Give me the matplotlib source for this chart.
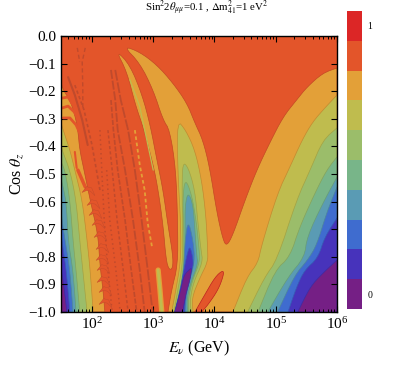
import matplotlib
matplotlib.use('Agg')
import matplotlib.pyplot as plt
import numpy as np
from matplotlib.path import Path
from matplotlib.colors import ListedColormap, to_rgb

plt.rcParams['font.family'] = ['Liberation Serif', 'DejaVu Serif']
plt.rcParams['mathtext.fontset'] = 'stix'

# band colours, level 0 (purple) to level 9 (red)
band_colors = ['#751f85', '#4733bb', '#3f6ccf', '#5a9bb4', '#78b589',
               '#9bbd6a', '#bfbc4e', '#e3a038', '#e3552a', '#dc2626']
field_level = 8

# colour bar values
cb_levels = np.arange(10) / 9

# regions: log10(E/GeV) and cos(theta)
main7_loge = [2.51, 2.78, 3.06, 3.32, 3.55, 3.68, 3.81, 3.92, 4.04, 4.14, 4.20, 4.30, 4.50, 4.69, 4.90, 5.12, 5.34, 5.51, 5.77, 6.0, 6.0, 3.24, 3.30, 3.40, 3.40, 3.37, 3.27, 3.16, 3.00, 2.78]
main7_cos = [-.036, -.058, -.105, -.170, -.243, -.315, -.377, -.475, -.641, -.739, -.761, -.721, -.594, -.486, -.388, -.293, -.232, -.185, -.134, -.116, -1, -1, -.920, -.830, -.685, -.486, -.341, -.304, -.196, -.098]

right6_loge = [6, 5.80, 5.60, 5.43, 5.23, 5.03, 4.77, 4.71, 4.53, 4.30, 6]
right6_cos = [-.214, -.261, -.312, -.377, -.475, -.569, -.757, -.822, -.873, -1, -1]
right5_loge = [6, 5.77, 5.56, 5.34, 5.02, 4.82, 4.54, 6]
right5_cos = [-.333, -.377, -.486, -.594, -.812, -.873, -1, -1]
right4_loge = [6, 5.83, 5.64, 5.39, 5.23, 4.99, 4.71, 6]
right4_cos = [-.438, -.486, -.569, -.692, -.801, -.848, -1, -1]
right3_loge = [6, 5.77, 5.51, 5.47, 5.20, 4.87, 6]
right3_cos = [-.511, -.605, -.728, -.801, -.873, -1, -1]
right2_loge = [6, 5.83, 5.67, 5.52, 5.31, 5.03, 6]
right2_cos = [-.547, -.641, -.757, -.812, -.866, -1, -1]
right1_loge = [6, 5.80, 5.69, 5.47, 5.34, 5.20, 6]
right1_cos = [-.659, -.728, -.804, -.848, -.909, -1, -1]
right0_loge = [6, 5.77, 5.56, 5.36, 6]
right0_cos = [-.812, -.859, -.909, -1, -1]

mid6_loge = [3.39, 3.53, 3.68, 3.79, 3.86, 3.89, 3.89, 3.76, 3.63, 3.65, 3.30, 3.37, 3.45, 3.45, 3.40]
mid6_cos = [-.304, -.341, -.413, -.522, -.649, -.775, -.819, -.877, -.949, -1, -1, -.920, -.812, -.685, -.486]
mid5_loge = [3.48, 3.57, 3.68, 3.73, 3.78, 3.81, 3.66, 3.60, 3.62, 3.34, 3.40, 3.48, 3.48, 3.47]
mid5_cos = [-.457, -.475, -.558, -.678, -.775, -.819, -.891, -.957, -1, -1, -.920, -.830, -.703, -.558]
mid4_loge = [3.52, 3.63, 3.71, 3.75, 3.76, 3.63, 3.57, 3.58, 3.35, 3.44, 3.50, 3.50, 3.48]
mid4_cos = [-.514, -.576, -.685, -.775, -.819, -.891, -.957, -1, -1, -.920, -.830, -.703, -.594]
mid3_loge = [3.57, 3.65, 3.68, 3.71, 3.73, 3.60, 3.55, 3.56, 3.37, 3.45, 3.52, 3.52, 3.52]
mid3_cos = [-.565, -.612, -.703, -.793, -.826, -.902, -.957, -1, -1, -.920, -.830, -.703, -.612]
mid2_loge = [3.57, 3.65, 3.68, 3.57, 3.53, 3.53, 3.37, 3.45, 3.50, 3.52]
mid2_cos = [-.667, -.739, -.819, -.902, -.957, -1, -1, -.920, -.841, -.739]
mid1_loge = [3.60, 3.66, 3.63, 3.53, 3.51, 3.35, 3.44, 3.50, 3.55]
mid1_cos = [-.757, -.819, -.848, -.920, -1, -1, -.920, -.848, -.793]
mid0_loge = [3.35, 3.44, 3.50, 3.60, 3.63, 3.60, 3.53, 3.48]
mid0_cos = [-1, -.928, -.866, -.844, -.841, -.884, -.938, -1]

lobe8_loge = [3.68, 3.84, 4.01, 4.14, 4.15, 4.06, 3.89, 3.79]
lobe8_cos = [-1, -.938, -.873, -.848, -.866, -.920, -.975, -1]

stripe7_loge = [2.39, 2.62, 2.82, 2.95, 3.06, 3.16, 3.24, 3.32, 3.32, 3.26, 3.21, 3.16, 3.08, 3.00, 2.85, 2.70, 2.57]
stripe7_cos = [-.051, -.105, -.214, -.322, -.449, -.558, -.685, -.793, -.841, -.848, -.812, -.685, -.558, -.467, -.341, -.243, -.130]

left7_loge = [1.48, 1.53, 1.64, 1.72, 1.77, 1.80, 1.87, 1.97, 2.10, 2.13, 2.18, 2.21, 1.48]
left7_cos = [-.159, -.196, -.232, -.286, -.341, -.413, -.486, -.594, -.721, -.830, -.920, -1, -1]
left6_loge = [1.48, 1.53, 1.64, 1.72, 1.84, 1.92, 1.97, 2.02, 1.48]
left6_cos = [-.304, -.341, -.413, -.486, -.594, -.739, -.848, -1, -1]
left5_loge = [1.48, 1.51, 1.64, 1.74, 1.80, 1.85, 1.92, 1.48]
left5_cos = [-.377, -.413, -.486, -.594, -.739, -.848, -1, -1]
left4_loge = [1.48, 1.56, 1.64, 1.69, 1.74, 1.80, 1.48]
left4_cos = [-.449, -.486, -.594, -.739, -.848, -1, -1]
left3_loge = [1.48, 1.58, 1.61, 1.69, 1.74, 1.48]
left3_cos = [-.504, -.594, -.739, -.848, -1, -1]
left2_loge = [1.48, 1.51, 1.56, 1.64, 1.69, 1.48]
left2_cos = [-.594, -.667, -.739, -.848, -1, -1]
left1_loge = [1.48, 1.53, 1.58, 1.64, 1.48]
left1_cos = [-.685, -.775, -.848, -1, -1]
left0_loge = [1.48, 1.53, 1.59, 1.48]
left0_cos = [-.830, -.884, -1, -1]

# oscillation stripes, all read at the same cos rows
stripe_cos = [-.123, -.232, -.341, -.486, -.667, -.848, -1]
stripe_a = [2.38, 2.47, 2.59, 2.70, 2.81, 2.91, 2.99]
stripe_b = [2.31, 2.38, 2.42, 2.54, 2.67, 2.78, 2.86]
stripe_c = [np.nan, 2.31, 2.35, 2.42, 2.54, 2.64, 2.73]
stripe_d = [np.nan, np.nan, 2.26, 2.33, 2.41, 2.51, 2.59]
stripe_e = [np.nan, np.nan, np.nan, 2.24, 2.29, 2.39, 2.46]
stripe_f = [np.nan, np.nan, 2.13, 2.16, 2.20, 2.26, 2.33]

# short stripes near the top left
v1_loge = [1.76, 1.80]
v1_cos = [-.043, -.094]
v2_loge = [1.89, 1.84, 1.85, 1.85]
v2_cos = [-.043, -.094, -.185, -.257]
wave1_loge = [1.51, 1.61, 1.67, 1.74]
wave1_cos = [-.225, -.221, -.243, -.261]
wave2_loge = [1.51, 1.61, 1.71, 1.77]
wave2_cos = [-.261, -.254, -.275, -.297]
wave3_loge = [1.53, 1.64, 1.74, 1.80]
wave3_cos = [-.297, -.297, -.322, -.351]
dark1_loge = [1.61, 1.72, 1.84, 1.93]
dark1_cos = [-.149, -.214, -.304, -.395]
dark2_loge = [1.72, 1.87, 2.0, 2.13]
dark2_cos = [-.178, -.268, -.395, -.558]
slit1_loge = [1.72, 1.75]
slit1_cos = [-.420, -.478]
slit2_loge = [1.77, 1.89]
slit2_cos = [-.486, -.547]

# thin lighter stripes
core_loge = [2.62, 2.78, 3.00]
core_cos = [-.159, -.257, -.486]
yellow_loge = [2.70, 2.78, 2.86, 2.91, 2.98]
yellow_cos = [-.341, -.467, -.558, -.678, -.764]
low_loge = [3.08, 3.11, 3.14]
low_cos = [-.848, -.920, -1]

# red crescents at the left
teeth_loge = [1.93, 2.02, 2.05, 2.10, 2.13, 2.16, 2.16, 2.18, 2.18, 2.21, 2.21]
teeth_cos = [-.558, -.605, -.641, -.678, -.721, -.764, -.804, -.841, -.884, -.920, -.964]


def darker(color):
    return tuple(c * 0.86 for c in to_rgb(color))


def rounded(loge, cos):
    # cut the polygon corners so the outlines look like contours, frame corners stay
    x, y = np.array(loge, dtype=float), np.array(cos, dtype=float)
    for _ in range(2):
        xs, ys = [], []
        n = len(x)
        for i in range(n):
            if x[i] >= 6 or x[i] <= 1.48 or y[i] <= -1:
                xs.append(x[i])
                ys.append(y[i])
                continue
            a, b = (i - 1) % n, (i + 1) % n
            xs += [0.75 * x[i] + 0.25 * x[a], 0.75 * x[i] + 0.25 * x[b]]
            ys += [0.75 * y[i] + 0.25 * y[a], 0.75 * y[i] + 0.25 * y[b]]
        x, y = np.array(xs), np.array(ys)
    return x, y


def region(ax, loge, cos, level):
    x, y = rounded(loge, cos)
    ax.fill(10 ** x, y, facecolor=band_colors[level],
            edgecolor=darker(band_colors[level + 1 if level < 9 else 9]), linewidth=0.5)


def stripe(ax, loge, cos, color, width, style='-'):
    ax.plot(10 ** np.array(loge), cos, color=color, linewidth=width, linestyle=style,
            solid_capstyle='round')


fig = plt.figure(figsize=(4.0, 3.65), dpi=100)
ax = fig.add_axes([60.5 / 400, 53 / 365, 276.5 / 400, 276 / 365])
ax.set_xscale('log')
ax.set_xlim(10 ** 1.486, 1e6)
ax.set_ylim(-1, 0)
ax.set_facecolor(band_colors[field_level])

region(ax, main7_loge, main7_cos, 7)
region(ax, right6_loge, right6_cos, 6)
region(ax, right5_loge, right5_cos, 5)
region(ax, right4_loge, right4_cos, 4)
region(ax, right3_loge, right3_cos, 3)
region(ax, right2_loge, right2_cos, 2)
region(ax, right1_loge, right1_cos, 1)
region(ax, right0_loge, right0_cos, 0)
region(ax, mid6_loge, mid6_cos, 6)
region(ax, mid5_loge, mid5_cos, 5)
region(ax, mid4_loge, mid4_cos, 4)
region(ax, mid3_loge, mid3_cos, 3)
region(ax, mid2_loge, mid2_cos, 2)
region(ax, mid1_loge, mid1_cos, 1)
region(ax, mid0_loge, mid0_cos, 0)
region(ax, lobe8_loge, lobe8_cos, 8)
region(ax, stripe7_loge, stripe7_cos, 7)
region(ax, left7_loge, left7_cos, 7)
region(ax, left6_loge, left6_cos, 6)
region(ax, left5_loge, left5_cos, 5)
region(ax, left4_loge, left4_cos, 4)
region(ax, left3_loge, left3_cos, 3)
region(ax, left2_loge, left2_cos, 2)
region(ax, left1_loge, left1_cos, 1)
region(ax, left0_loge, left0_cos, 0)

# stripes
dark_red = '#c04a2c'
stripe(ax, stripe_a, stripe_cos, dark_red, 1.3, (0, (6, 1)))
stripe(ax, stripe_b, stripe_cos, dark_red, 1.3, (0, (5, 1)))
stripe(ax, stripe_c, stripe_cos, dark_red, 1.2, (0, (3, 1)))
stripe(ax, stripe_d, stripe_cos, dark_red, 1.1, (0, (2, 1.5)))
stripe(ax, stripe_e, stripe_cos, dark_red, 1.1, (0, (1, 2)))
stripe(ax, stripe_f, stripe_cos, dark_red, 1.1, (0, (1, 2)))
stripe(ax, v1_loge, v1_cos, dark_red, 1.0, (0, (3, 2)))
stripe(ax, v2_loge, v2_cos, dark_red, 1.0, (0, (3, 2)))
stripe(ax, dark1_loge, dark1_cos, dark_red, 1.5)
stripe(ax, dark2_loge, dark2_cos, dark_red, 1.2, (0, (2, 1.5)))
fill_red = band_colors[field_level]
stripe(ax, wave1_loge, wave1_cos, fill_red, 2.0)
stripe(ax, wave2_loge, wave2_cos, fill_red, 2.0)
stripe(ax, wave3_loge, wave3_cos, fill_red, 2.0)
stripe(ax, slit1_loge, slit1_cos, fill_red, 1.5)
stripe(ax, slit2_loge, slit2_cos, fill_red, 2.5)
stripe(ax, core_loge, core_cos, band_colors[6], 0.9)
stripe(ax, yellow_loge, yellow_cos, band_colors[7], 1.3, (0, (2, 1.5)))
stripe(ax, low_loge, low_cos, band_colors[7], 3.8)
stripe(ax, low_loge, low_cos, band_colors[6], 2.0)

crescent = Path([(-1, -0.3), (-0.3, 0.6), (0.5, 0.4), (1, -0.8), (0.3, -0.1), (-0.3, 0.0), (-1, -0.3)], closed=True)
ax.scatter(10 ** np.array(teeth_loge), teeth_cos, marker=crescent, s=85, color=fill_red,
           edgecolors=dark_red, linewidths=0.3, zorder=3)

# axes decoration
ax.set_yticks(np.arange(-1.0, 0.01, 0.1))
ax.set_yticklabels(['\u22121.0', '\u22120.9', '\u22120.8', '\u22120.7', '\u22120.6', '\u22120.5',
                    '\u22120.4', '\u22120.3', '\u22120.2', '\u22120.1', '0.0'])
ax.set_xticks([1e2, 1e3, 1e4, 1e5, 1e6])
ax.tick_params(which='major', direction='in', top=True, right=True, length=4.5, width=0.8, labelsize=11, pad=3)
ax.tick_params(which='minor', direction='in', top=True, right=True, length=2.2, width=0.7)
ax.tick_params(axis='y', which='minor', left=False, right=False)
ax.set_xlabel(r'$E_{\nu}$ (GeV)', fontsize=11.5, labelpad=5)
ax.set_ylabel(r'Cos $\theta_{z}$', fontsize=11.5, labelpad=3)
ax.set_title(r'Sin$^{2}$2$\theta_{\mu\mu}$=0.1 , $\Delta$m$^{2}_{41}$=1 eV$^{2}$', fontsize=7.8, x=0.53, pad=17.5)
for s in ax.spines.values():
    s.set_linewidth(1.0)

# colour bar
cax = fig.add_axes([347 / 400, 56 / 365, 15 / 400, 298 / 365])
cb_edges = np.linspace(-0.5 / 9, 1 + 0.5 / 9, 11)
cax.pcolormesh([0, 1], cb_edges, cb_levels.reshape(-1, 1), cmap=ListedColormap(band_colors), vmin=0, vmax=1)
cax.set_xticks([])
cax.yaxis.tick_right()
cax.set_yticks([0, 1])
cax.set_yticklabels(['0', '1'], fontsize=7)
cax.tick_params(axis='y', length=0, pad=4)
for s in cax.spines.values():
    s.set_visible(False)

fig.savefig('out.png', dpi=100)
